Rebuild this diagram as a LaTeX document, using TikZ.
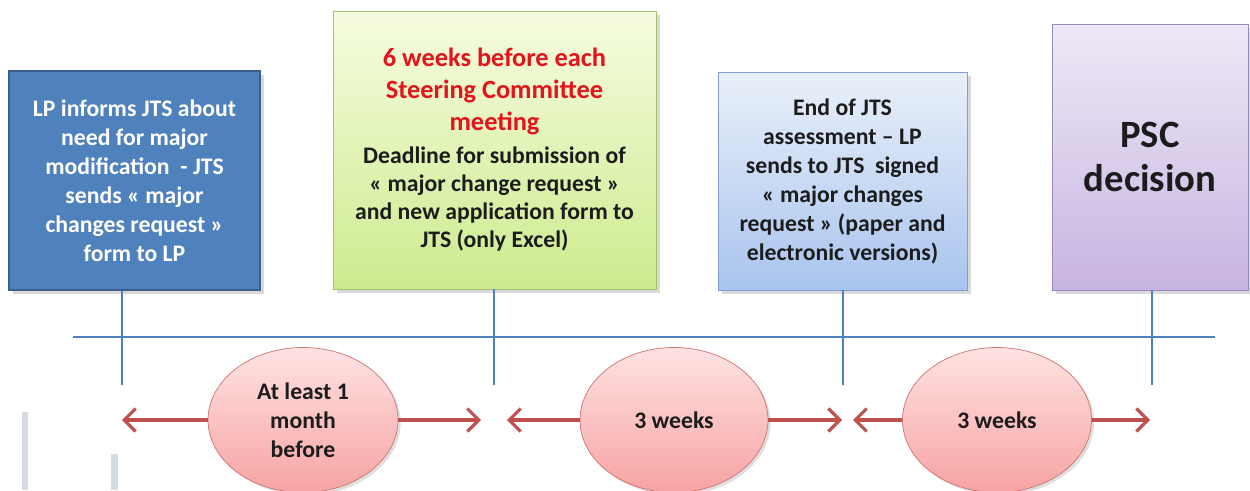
\documentclass[tikz,border=0pt]{standalone}
\usepackage{fontspec}
\setmainfont{Carlito}
\usetikzlibrary{arrows.meta, shapes.geometric, shadows}

\definecolor{lpblue}{HTML}{4F81BD}
\definecolor{lpedge}{HTML}{3A5F8F}
\definecolor{greentop}{HTML}{F6FCE0}
\definecolor{greenbot}{HTML}{CDEB8E}
\definecolor{greenedge}{HTML}{A4C06A}
\definecolor{bluetop}{HTML}{EAF0FA}
\definecolor{bluebot}{HTML}{A8C4EE}
\definecolor{blueedge}{HTML}{7F9FD3}
\definecolor{lilactop}{HTML}{EEE9F6}
\definecolor{lilacbot}{HTML}{C7B4E1}
\definecolor{lilacedge}{HTML}{9C8BC2}
\definecolor{pinktop}{HTML}{FFE2E2}
\definecolor{pinkbot}{HTML}{F7A3A3}
\definecolor{spanred}{HTML}{C0504D}
\definecolor{deadred}{HTML}{E3141C}
\definecolor{inkdark}{HTML}{1C1C1C}
\definecolor{ghost}{HTML}{D6DBE3}

\newcommand{\redline}[1]{\textcolor{deadred}{\fontsize{15}{18}\selectfont #1}}

\begin{document}
\begin{tikzpicture}[
    every node/.style={font=\bfseries\fontsize{13.5}{16.5}\selectfont, align=center, text=inkdark},
    box/.style={draw, rectangle, inner sep=0pt,
      drop shadow={opacity=.3, shadow xshift=2pt, shadow yshift=-2pt}},
    gap/.style={draw=spanred!80, ellipse, inner sep=0pt, top color=pinktop, bottom color=pinkbot,
      minimum width=3.8cm, minimum height=2.9cm,
      drop shadow={opacity=.25, shadow xshift=1.5pt, shadow yshift=-1.5pt}},
    span/.style={draw=spanred, line width=1.8pt, -{Straight Barb[length=6.5pt, width=13pt, line width=1.8pt]}},
    tick/.style={draw=lpblue, line width=.8pt}
  ]
    \useasboundingbox (0, 0) rectangle (25, 9.8);

    % faint bars at the lower left
    \fill [ghost] (0.44, 0) rectangle (0.56, 1.56);
    \fill [ghost] (2.22, 0) rectangle (2.35, 0.72);

    % milestones
    \node [box, draw=lpedge, line width=1.6pt, fill=lpblue, text=white,
      minimum width=5.02cm, minimum height=4.38cm] (b1) at (2.69, 6.19)
      {LP informs JTS about\\ need for major\\ modification \ - JTS\\ sends « major\\ changes request »\\ form to LP};
    \node [box, draw=greenedge, top color=greentop, bottom color=greenbot,
      minimum width=6.46cm, minimum height=5.56cm] (b2) at (9.89, 6.8)
      {\redline{6 weeks before each}\\[1.7pt]
       \redline{Steering Committee}\\[1.7pt]
       \redline{meeting}\\[2.3pt]
       Deadline for submission of\\[-.6pt] « major change request »\\[-.6pt] and new application form to\\[-.6pt] JTS (only Excel)};
    \node [box, draw=blueedge, top color=bluetop, bottom color=bluebot,
      minimum width=4.98cm, minimum height=4.36cm] (b3) at (16.85, 6.18)
      {End of JTS\\ assessment -- LP\\ sends to JTS \ signed\\ « major changes\\ request » (paper and\\ electronic versions)};
    \node [box, draw=lilacedge, top color=lilactop, bottom color=lilacbot,
      minimum width=3.92cm, minimum height=5.32cm,
      font=\bfseries\fontsize{22}{25.5}\selectfont] (b4) at (23.0, 6.66)
      {PSC\\ decision};

    % time line
    \coordinate (t0) at (1.46, 3.06);
    \coordinate (t9) at (24.3, 3.06);
    \draw [tick] (t0) -- (t9);

    \coordinate (m1) at (2.44, 2.1);
    \coordinate (m2) at (9.88, 2.1);
    \coordinate (m3) at (16.86, 2.1);
    \coordinate (m4) at (23.04, 2.1);
    \draw [tick] (b1.south -| m1) -- (m1);
    \draw [tick] (b2.south -| m2) -- (m2);
    \draw [tick] (b3.south -| m3) -- (m3);
    \draw [tick] (b4.south -| m4) -- (m4);

    % durations
    \node [gap] (e1) at (6.06, 1.4) {At least 1\\ month\\ before};
    \node [gap, minimum width=3.76cm] (e2) at (13.48, 1.4) {3 weeks};
    \node [gap, minimum width=3.78cm] (e3) at (19.94, 1.4) {3 weeks};

    \coordinate (a1) at (2.44, 1.4);
    \coordinate (a2) at (9.62, 1.4);
    \coordinate (a3) at (10.14, 1.4);
    \coordinate (a4) at (16.84, 1.4);
    \coordinate (a5) at (17.06, 1.4);
    \coordinate (a6) at (23.0, 1.4);
    \draw [span] (e1) -- (a1);
    \draw [span] (e1) -- (a2);
    \draw [span] (e2) -- (a3);
    \draw [span] (e2) -- (a4);
    \draw [span] (e3) -- (a5);
    \draw [span] (e3) -- (a6);
  \end{tikzpicture}
\end{document}
